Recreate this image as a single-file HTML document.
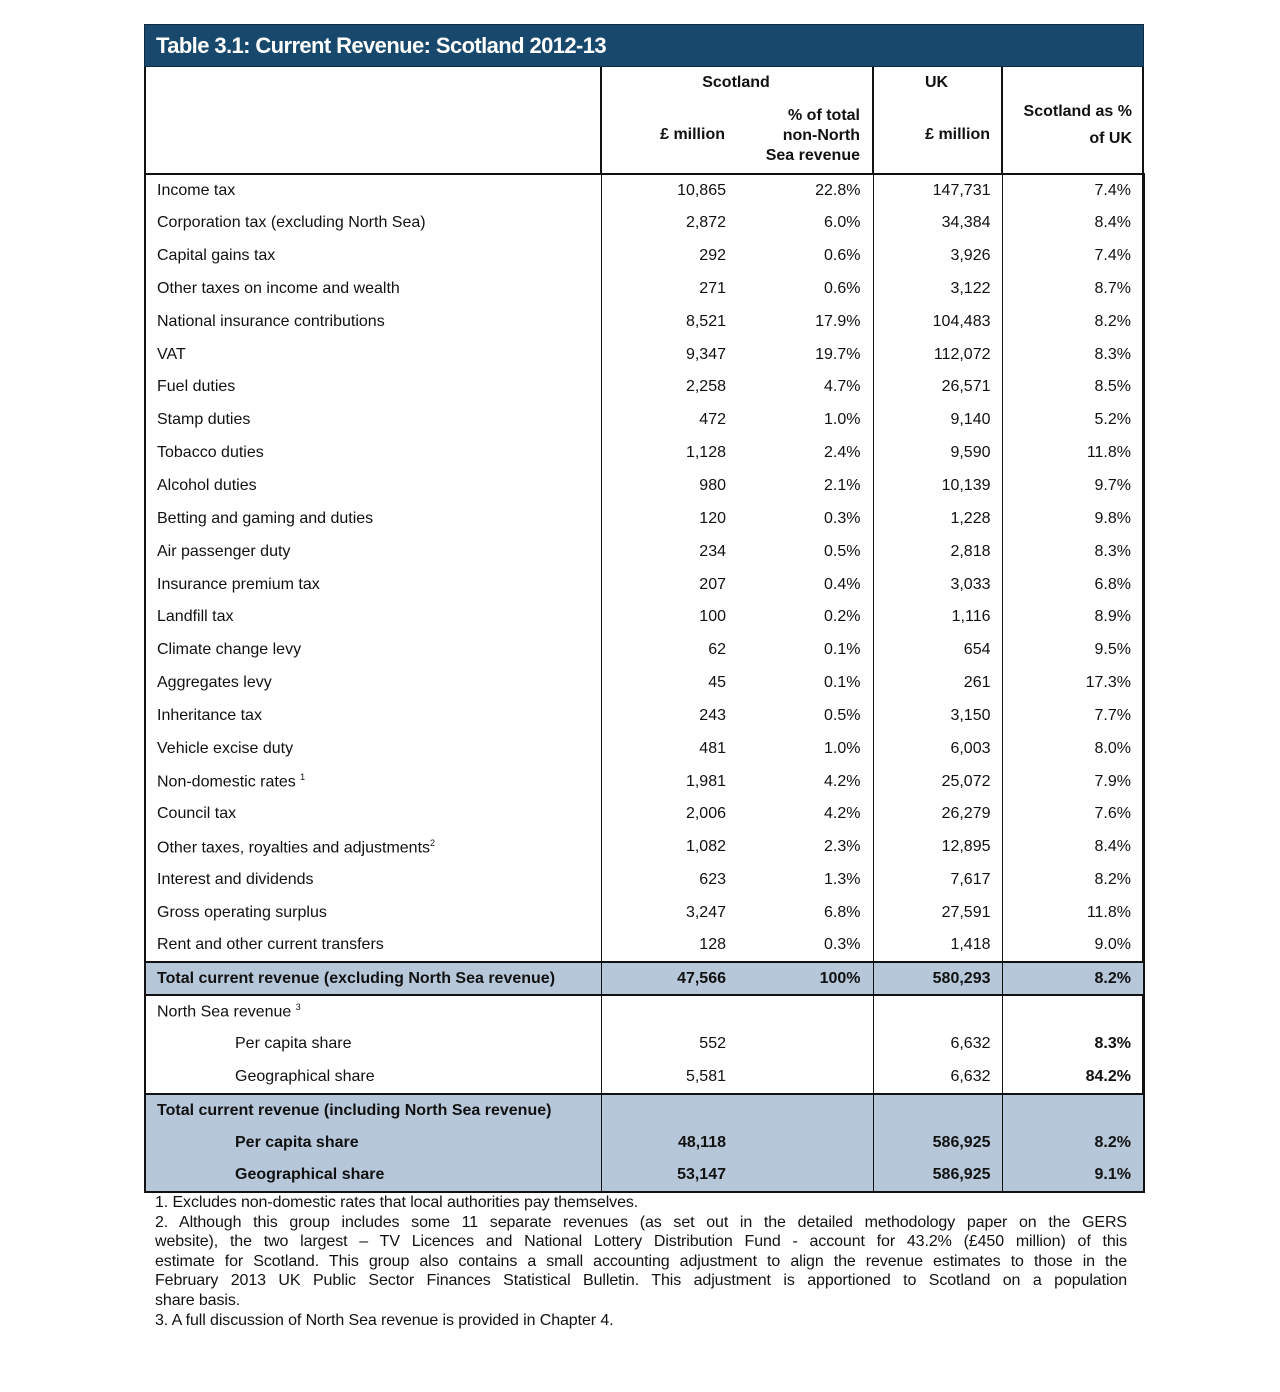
<!DOCTYPE html>
<html><head><meta charset="utf-8"><style>
body{margin:0;background:#fff;width:1280px;height:1392px;position:relative;font-family:"Liberation Sans",Arial,sans-serif;color:#111;}
.title{position:absolute;left:144px;top:24px;width:1000px;height:43px;background:#18486c;border:1px solid #0d2c44;box-sizing:border-box;color:#fff;font-weight:bold;font-size:22px;line-height:42px;padding-left:11px;letter-spacing:-0.6px}
.frame{position:absolute;left:144px;top:67px;width:1000px;height:1126px;border:2px solid #111;border-top:none;box-sizing:border-box}
.h{position:absolute;font-weight:bold;font-size:16px;line-height:20px}
table{position:absolute;left:144px;top:173px;width:999px;border-collapse:collapse;font-size:16px;table-layout:fixed}
td{height:32.85px;padding:0;white-space:nowrap;vertical-align:middle;box-sizing:border-box}
td.l{padding-left:11px;border-left:2px solid #111;border-right:1.5px solid #111}
td.a{text-align:right;padding-right:11px}
td.b{text-align:right;padding-right:12px;border-right:1.5px solid #111}
td.c{text-align:right;padding-right:11px;border-right:1.5px solid #111}
td.d{text-align:right;padding-right:12px;border-right:2px solid #111}
tr.s td{background:#b7c7da;font-weight:bold}
tr.top td{border-top:2px solid #111}
.ind{padding-left:89px!important}
sup{font-size:9px}
.fn{position:absolute;left:155px;top:1193px;width:972px;font-size:16px;line-height:19.6px;letter-spacing:-0.1px}
.fn div{height:19.6px;overflow:hidden}
.fn .j{text-align:justify;text-align-last:justify}
</style></head><body>
<div class="title">Table 3.1: Current Revenue: Scotland 2012-13</div>
<div class="frame"></div>
<div style="position:absolute;left:600px;top:67px;width:1.5px;height:106px;background:#111"></div>
<div style="position:absolute;left:872px;top:67px;width:1.5px;height:106px;background:#111"></div>
<div style="position:absolute;left:1001px;top:67px;width:1.5px;height:106px;background:#111"></div>
<div class="h" style="left:600px;width:272px;top:73px;text-align:center">Scotland</div>
<div class="h" style="left:872px;width:129px;top:73px;text-align:center">UK</div>
<div class="h" style="left:600px;width:125px;top:125px;text-align:right">£ million</div>
<div class="h" style="left:736px;width:124px;top:106px;text-align:right">% of total<br>non-North<br>Sea revenue</div>
<div class="h" style="left:872px;width:118px;top:125px;text-align:right">£ million</div>
<div class="h" style="left:1001px;width:131px;top:98px;text-align:right;line-height:27px">Scotland as %<br>of UK</div>
<table>
<colgroup><col style="width:456px"><col style="width:136px"><col style="width:136px"><col style="width:129px"><col style="width:142px"></colgroup>
<tr class="top"><td class="l">Income tax</td><td class="a">10,865</td><td class="b">22.8%</td><td class="c">147,731</td><td class="d">7.4%</td></tr>
<tr><td class="l">Corporation tax (excluding North Sea)</td><td class="a">2,872</td><td class="b">6.0%</td><td class="c">34,384</td><td class="d">8.4%</td></tr>
<tr><td class="l">Capital gains tax</td><td class="a">292</td><td class="b">0.6%</td><td class="c">3,926</td><td class="d">7.4%</td></tr>
<tr><td class="l">Other taxes on income and wealth</td><td class="a">271</td><td class="b">0.6%</td><td class="c">3,122</td><td class="d">8.7%</td></tr>
<tr><td class="l">National insurance contributions</td><td class="a">8,521</td><td class="b">17.9%</td><td class="c">104,483</td><td class="d">8.2%</td></tr>
<tr><td class="l">VAT</td><td class="a">9,347</td><td class="b">19.7%</td><td class="c">112,072</td><td class="d">8.3%</td></tr>
<tr><td class="l">Fuel duties</td><td class="a">2,258</td><td class="b">4.7%</td><td class="c">26,571</td><td class="d">8.5%</td></tr>
<tr><td class="l">Stamp duties</td><td class="a">472</td><td class="b">1.0%</td><td class="c">9,140</td><td class="d">5.2%</td></tr>
<tr><td class="l">Tobacco duties</td><td class="a">1,128</td><td class="b">2.4%</td><td class="c">9,590</td><td class="d">11.8%</td></tr>
<tr><td class="l">Alcohol duties</td><td class="a">980</td><td class="b">2.1%</td><td class="c">10,139</td><td class="d">9.7%</td></tr>
<tr><td class="l">Betting and gaming and duties</td><td class="a">120</td><td class="b">0.3%</td><td class="c">1,228</td><td class="d">9.8%</td></tr>
<tr><td class="l">Air passenger duty</td><td class="a">234</td><td class="b">0.5%</td><td class="c">2,818</td><td class="d">8.3%</td></tr>
<tr><td class="l">Insurance premium tax</td><td class="a">207</td><td class="b">0.4%</td><td class="c">3,033</td><td class="d">6.8%</td></tr>
<tr><td class="l">Landfill tax</td><td class="a">100</td><td class="b">0.2%</td><td class="c">1,116</td><td class="d">8.9%</td></tr>
<tr><td class="l">Climate change levy</td><td class="a">62</td><td class="b">0.1%</td><td class="c">654</td><td class="d">9.5%</td></tr>
<tr><td class="l">Aggregates levy</td><td class="a">45</td><td class="b">0.1%</td><td class="c">261</td><td class="d">17.3%</td></tr>
<tr><td class="l">Inheritance tax</td><td class="a">243</td><td class="b">0.5%</td><td class="c">3,150</td><td class="d">7.7%</td></tr>
<tr><td class="l">Vehicle excise duty</td><td class="a">481</td><td class="b">1.0%</td><td class="c">6,003</td><td class="d">8.0%</td></tr>
<tr><td class="l">Non-domestic rates <sup>1</sup></td><td class="a">1,981</td><td class="b">4.2%</td><td class="c">25,072</td><td class="d">7.9%</td></tr>
<tr><td class="l">Council tax</td><td class="a">2,006</td><td class="b">4.2%</td><td class="c">26,279</td><td class="d">7.6%</td></tr>
<tr><td class="l">Other taxes,  royalties and adjustments<sup>2</sup></td><td class="a">1,082</td><td class="b">2.3%</td><td class="c">12,895</td><td class="d">8.4%</td></tr>
<tr><td class="l">Interest and dividends</td><td class="a">623</td><td class="b">1.3%</td><td class="c">7,617</td><td class="d">8.2%</td></tr>
<tr><td class="l">Gross operating surplus</td><td class="a">3,247</td><td class="b">6.8%</td><td class="c">27,591</td><td class="d">11.8%</td></tr>
<tr><td class="l">Rent and other current transfers</td><td class="a">128</td><td class="b">0.3%</td><td class="c">1,418</td><td class="d">9.0%</td></tr>
<tr class="s top"><td class="l">Total current revenue (excluding North Sea revenue)</td><td class="a">47,566</td><td class="b">100%</td><td class="c">580,293</td><td class="d">8.2%</td></tr>
<tr class="top"><td class="l">North Sea revenue <sup>3</sup></td><td class="a"></td><td class="b"></td><td class="c"></td><td class="d"></td></tr>
<tr><td class="l ind">Per capita share</td><td class="a">552</td><td class="b"></td><td class="c">6,632</td><td class="d"><b>8.3%</b></td></tr>
<tr><td class="l ind">Geographical share</td><td class="a">5,581</td><td class="b"></td><td class="c">6,632</td><td class="d"><b>84.2%</b></td></tr>
<tr class="s top"><td class="l">Total current revenue (including North Sea revenue)</td><td class="a"></td><td class="b"></td><td class="c"></td><td class="d"></td></tr>
<tr class="s"><td class="l ind">Per capita share</td><td class="a">48,118</td><td class="b"></td><td class="c">586,925</td><td class="d">8.2%</td></tr>
<tr class="s"><td class="l ind" style="border-bottom:2px solid #111">Geographical share</td><td class="a" style="border-bottom:2px solid #111">53,147</td><td class="b" style="border-bottom:2px solid #111"></td><td class="c" style="border-bottom:2px solid #111">586,925</td><td class="d" style="border-bottom:2px solid #111">9.1%</td></tr>
</table>
<div class="fn">
<div>1. Excludes non-domestic rates that local authorities pay themselves.</div>
<div class="j">2. Although this group includes some 11 separate revenues (as set out in the detailed methodology paper on the GERS</div>
<div class="j">website), the two largest – TV Licences and National Lottery Distribution Fund - account for 43.2% (£450 million) of this</div>
<div class="j">estimate for Scotland.  This group also contains a small accounting adjustment to align the revenue estimates to those in the</div>
<div class="j">February 2013 UK Public Sector Finances Statistical Bulletin.  This adjustment is apportioned to Scotland on a population</div>
<div>share basis.</div>
<div>3. A full discussion of North Sea revenue is provided in Chapter 4.</div>
</div>
</body></html>
